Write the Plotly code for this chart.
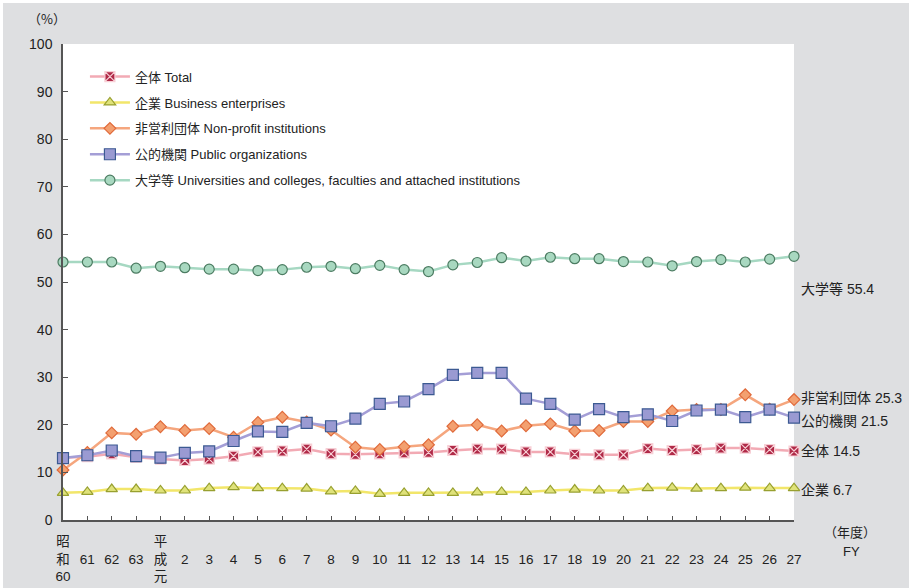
import plotly.graph_objects as go

years = ["昭<br>和<br>60", "61", "62", "63", "平<br>成<br>元", "2", "3", "4", "5", "6", "7", "8", "9",
         "10", "11", "12", "13", "14", "15", "16", "17", "18", "19", "20", "21", "22", "23",
         "24", "25", "26", "27"]

total = [13.1, 13.3, 13.9, 13.2, 12.8, 12.5, 12.8, 13.4, 14.3, 14.5, 14.9, 13.9, 13.8, 13.9, 14.1,
         14.2, 14.6, 14.9, 14.9, 14.3, 14.3, 13.8, 13.7, 13.7, 15.0, 14.6, 14.8, 15.1, 15.1, 14.8, 14.5]
business = [5.7, 5.9, 6.5, 6.5, 6.2, 6.2, 6.7, 6.9, 6.7, 6.7, 6.6, 6.0, 6.1, 5.5, 5.7,
            5.7, 5.7, 5.8, 5.9, 5.9, 6.2, 6.4, 6.2, 6.2, 6.7, 6.8, 6.6, 6.7, 6.8, 6.7, 6.7]
nonprofit = [10.5, 14.2, 18.3, 18.0, 19.6, 18.8, 19.2, 17.4, 20.5, 21.6, 20.6, 18.9, 15.3, 14.8, 15.4,
             15.8, 19.7, 20.0, 18.7, 19.8, 20.2, 18.7, 18.8, 20.7, 20.7, 22.9, 23.2, 23.2, 26.3, 23.3, 25.3]
public = [13.0, 13.6, 14.6, 13.4, 13.1, 14.1, 14.4, 16.6, 18.6, 18.5, 20.4, 19.7, 21.3, 24.4, 24.9,
          27.5, 30.5, 30.9, 30.9, 25.5, 24.4, 21.1, 23.3, 21.6, 22.2, 20.8, 23.0, 23.2, 21.6, 23.2, 21.5]
univ = [54.2, 54.2, 54.2, 52.9, 53.3, 53.0, 52.7, 52.7, 52.4, 52.6, 53.1, 53.3, 52.8, 53.5, 52.6,
        52.2, 53.6, 54.1, 55.1, 54.4, 55.2, 54.9, 54.9, 54.3, 54.2, 53.4, 54.3, 54.7, 54.2, 54.8, 55.4]

names = ["全体 Total", "企業 Business enterprises", "非営利団体 Non-profit institutions",
         "公的機関 Public organizations",
         "大学等 Universities and colleges, faculties and attached institutions"]
end_labels = ["全体 14.5", "企業 6.7", "非営利団体 25.3", "公的機関 21.5", "大学等 55.4"]

series = [total, business, nonprofit, public, univ]
line_colors = ["#f2aab4", "#f2e66a", "#f5a67e", "#a49ed6", "#a6d8c2"]
marker_fill = ["#b02a48", "#dfe27a", "#f3a070", "#9a9ad2", "#a8d8c0"]
marker_line = ["#f8d0d6", "#98a030", "#e06a3a", "#3c5a92", "#4c7c62"]
symbols = ["square-x", "triangle-up", "diamond", "square", "circle"]
sizes = [10, 10, 9, 11, 10]

x = list(range(len(years)))
FONT = "Arial, Liberation Sans, Noto Sans CJK JP, sans-serif"
CJK = "Noto Sans CJK JP, sans-serif"

# plot-area geometry (in figure pixels)
PL, PT, PW, PH = 60, 40.5, 731, 476.5

fig = go.Figure()
for i, s in enumerate(series):
    fig.add_trace(go.Scatter(
        x=x, y=s, name=names[i], mode="lines+markers",
        legendgroup=f"g{i}",
        line=dict(color=line_colors[i], width=2.5),
        marker=dict(symbol=symbols[i], size=sizes[i], color=marker_fill[i],
                    line=dict(color=marker_line[i], width=1.2)),
        cliponaxis=False,
    ))

ann = []
yshifts = [0, -2, 2, -3, -33]
for i, s in enumerate(series):
    ann.append(dict(x=x[-1], y=s[-1], xref="x", yref="y", text=end_labels[i],
                    showarrow=False, xanchor="left", yanchor="middle", xshift=5,
                    yshift=yshifts[i], font=dict(size=14, color="#222")))
ann.append(dict(x=-16 / PW, y=1 + 26 / PH, xref="paper", yref="paper", text="（%）",
                showarrow=False, xanchor="center", yanchor="middle",
                font=dict(size=13, color="#222", family=CJK)))
ann.append(dict(x=1 + 56 / PW, y=-12 / PH, xref="paper", yref="paper",
                text="（年度）",
                showarrow=False, xanchor="center", yanchor="middle",
                font=dict(size=13, color="#222", family=CJK)))
ann.append(dict(x=1 + 57 / PW, y=-32 / PH, xref="paper", yref="paper",
                text="FY",
                showarrow=False, xanchor="center", yanchor="middle",
                font=dict(size=13, color="#222")))

fig.update_layout(
    width=906, height=585,
    margin=dict(l=PL, r=906 - PL - PW, t=PT, b=585 - PT - PH, autoexpand=False),
    paper_bgcolor="#dedfe1", plot_bgcolor="white",
    font=dict(family=FONT, color="#222", size=13),
    showlegend=True,
    legend=dict(x=0.03, y=0.963, xanchor="left", yanchor="top",
                bgcolor="rgba(0,0,0,0)", font=dict(size=13, color="#222"),
                traceorder="grouped", tracegroupgap=6, itemwidth=40),
    annotations=ann,
)
fig.update_xaxes(range=[0, 30], tickmode="array", tickvals=x,
                 ticktext=[t if "<br>" in t else "\u00a0<br>" + t for t in years],
                 ticks="inside", ticklen=4, tickcolor="#555", showline=True,
                 linecolor="#555", linewidth=1.5, showgrid=False, zeroline=False,
                 tickfont=dict(size=13.5, color="#222"), tickangle=0,
                 ticklabelstandoff=8, automargin=False)
fig.update_yaxes(range=[0, 100], dtick=10, ticks="inside", ticklen=5, tickcolor="#555",
                 showline=True, linecolor="#555", linewidth=1.5, showgrid=False,
                 zeroline=False, tickfont=dict(size=14, color="#222"),
                 ticklabelstandoff=6, automargin=False)

fig.write_html("out.html",
               post_script="document.body.style.margin='3px 0 0 3px';"
                           "document.body.style.overflow='hidden';")
